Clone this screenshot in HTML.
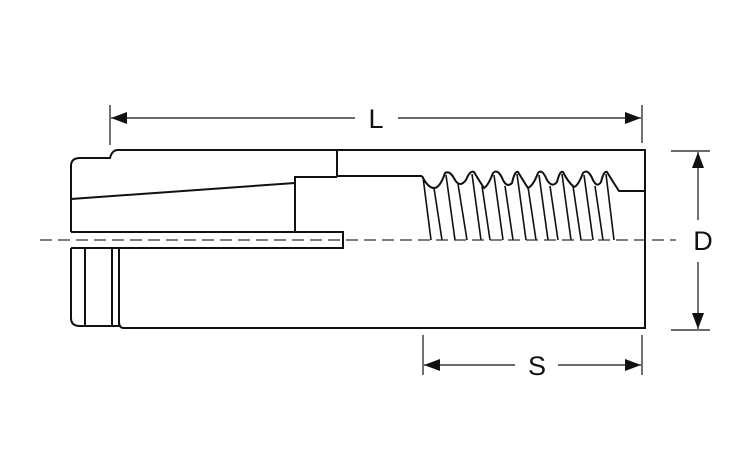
<!DOCTYPE html>
<html><head><style>html,body{margin:0;padding:0;background:#fff;}</style></head><body>
<svg width="750" height="450" viewBox="0 0 750 450" xmlns="http://www.w3.org/2000/svg" font-family="Liberation Sans, sans-serif">
<defs><marker id="a" viewBox="0 0 16 12" refX="16" refY="6" markerUnits="userSpaceOnUse" markerWidth="16" markerHeight="12" orient="auto-start-reverse"><path d="M0,0 L16,6 L0,12 z" fill="#111"/></marker></defs>
<g fill="none" stroke="#111" stroke-width="2">
<path d="M71,232 L71,166 Q71,158 80,158 L110,158 Q112,150 118,150 L645,150 L645,328 L124,328 Q119,328 119,322"/>
<path d="M337,150 L337,176 L422,176"/>
<path d="M337,177 L295,177 L295,232"/>
<path d="M71,199 L295,183"/>
<path d="M71,232 L343,232 L343,248 L71,248"/>
<path d="M71,248 L71,318 Q71,326 80,326 L119,326"/>
<path d="M85,248 L85,326 M112,248 L112,326 M119,248 L119,326"/>
<path d="M422,176 Q428,188 434,188 Q440,188 445,173 Q450,170 455,180 Q460,188 466,180 Q470,170 474,172 Q480,182 484,188 Q488,186 493,173 Q498,168 503,180 Q507,188 512,183 Q515,170 518,172 Q524,182 528,188 Q533,186 538,173 Q542,168 547,180 Q552,188 557,182 Q560,170 563,172 Q568,182 574,187 Q578,186 583,173 Q588,168 593,180 Q597,188 601,182 Q604,170 607,172 Q613,182 619,191 L645,191"/>
</g>
<g stroke="#111" stroke-width="1.6">
<line x1="423" y1="177" x2="431" y2="240"/><line x1="434" y1="188" x2="442" y2="240"/>
<line x1="446" y1="175" x2="455" y2="240"/><line x1="458" y1="184" x2="467" y2="240"/>
<line x1="472" y1="174" x2="481" y2="240"/><line x1="482" y1="186" x2="490" y2="240"/>
<line x1="494" y1="175" x2="503" y2="240"/><line x1="505" y1="186" x2="513" y2="240"/>
<line x1="517" y1="174" x2="526" y2="240"/><line x1="528" y1="187" x2="536" y2="240"/>
<line x1="539" y1="175" x2="548" y2="240"/><line x1="550" y1="186" x2="558" y2="240"/>
<line x1="562" y1="174" x2="571" y2="240"/><line x1="573" y1="186" x2="581" y2="240"/>
<line x1="584" y1="175" x2="593" y2="240"/><line x1="595" y1="186" x2="603" y2="240"/>
<line x1="606" y1="174" x2="614" y2="240"/>
</g>
<line x1="40" y1="240" x2="676" y2="240" stroke="#333" stroke-width="1.2" stroke-dasharray="12,6"/>
<g stroke="#111" stroke-width="1.2" fill="none">
<line x1="110" y1="105" x2="110" y2="145"/><line x1="642" y1="105" x2="642" y2="143"/>
<line x1="111" y1="118" x2="355" y2="118" marker-start="url(#a)"/><line x1="398" y1="118" x2="641" y2="118" marker-end="url(#a)"/>
<line x1="671" y1="151" x2="710" y2="151"/><line x1="671" y1="330" x2="710" y2="330"/>
<line x1="698" y1="152" x2="698" y2="220" marker-start="url(#a)"/><line x1="698" y1="262" x2="698" y2="329" marker-end="url(#a)"/>
<line x1="423" y1="335" x2="423" y2="375"/><line x1="642" y1="335" x2="642" y2="375"/>
<line x1="424" y1="365" x2="515" y2="365" marker-start="url(#a)"/><line x1="558" y1="365" x2="641" y2="365" marker-end="url(#a)"/>
</g>
<g fill="#111" font-size="27" text-anchor="middle">
<text x="376" y="128">L</text>
<text x="703" y="250">D</text>
<text x="537" y="375">S</text>
</g>
</svg>
</body></html>
